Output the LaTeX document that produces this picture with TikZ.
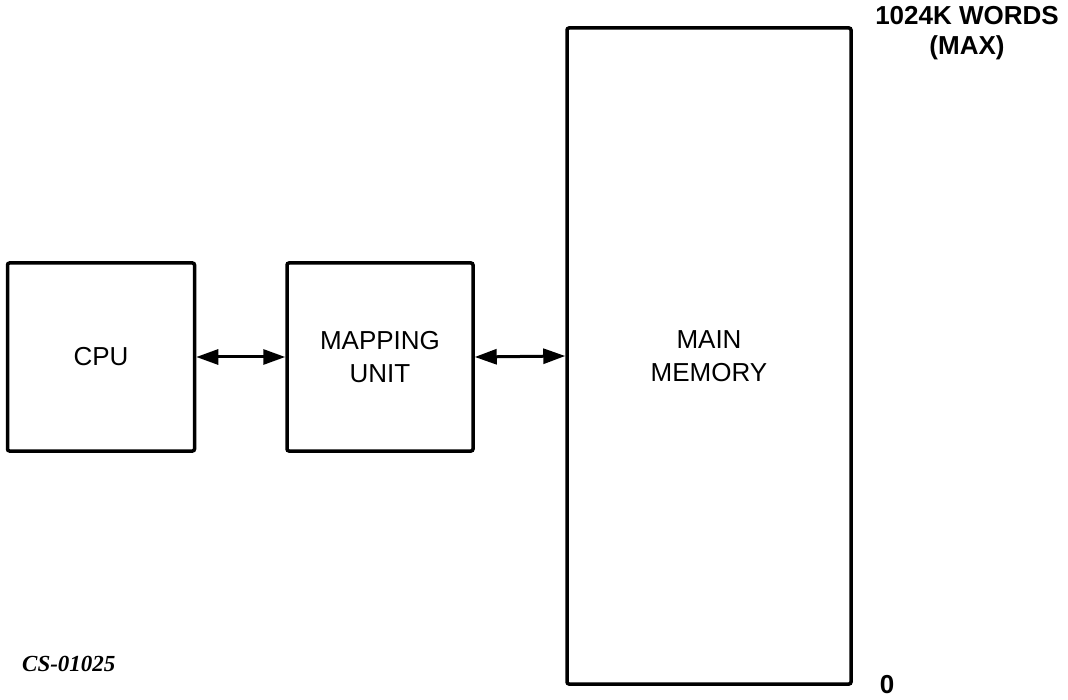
\documentclass[tikz,border=0pt]{standalone}
\usepackage{fontspec}
\setmainfont{Liberation Sans}
\newfontfamily\capfont{Liberation Serif}
\usetikzlibrary{arrows.meta}
\begin{document}
\begin{tikzpicture}[x=1pt,y=-1pt,
  blk/.style={draw=black,line width=3.5pt,rounded corners=2pt,inner sep=0pt,font=\fontsize{26}{33}\selectfont,align=center},
  conn/.style={line width=3pt,{Triangle[length=22pt,width=15pt]}-{Triangle[length=22pt,width=15pt]}},
  lbl/.style={font=\bfseries\fontsize{26}{30}\selectfont,align=center,inner sep=0pt}]
\useasboundingbox (0,0) rectangle (1068,700);
\node[blk,minimum width=187pt,minimum height=188pt] (cpu) at (101,357) {CPU};
\node[blk,minimum width=186pt,minimum height=188pt] (map) at (380,357) {MAPPING\\UNIT};
\node[blk,minimum width=284pt,minimum height=656pt] (mem) at (709,356) {MAIN\\MEMORY};
\draw[conn] (cpu.east) -- (map.west);
\draw[conn] (map.east) -- (mem.west);
\node[lbl] (top) at (967,33) {1024K WORDS\\(MAX)};
\node[lbl] (zero) at (887,685) {0};
\node[font=\capfont\bfseries\itshape\fontsize{23}{26}\selectfont,anchor=west,inner sep=0pt] (cs) at (22,664) {CS-01025};
\end{tikzpicture}
\end{document}
